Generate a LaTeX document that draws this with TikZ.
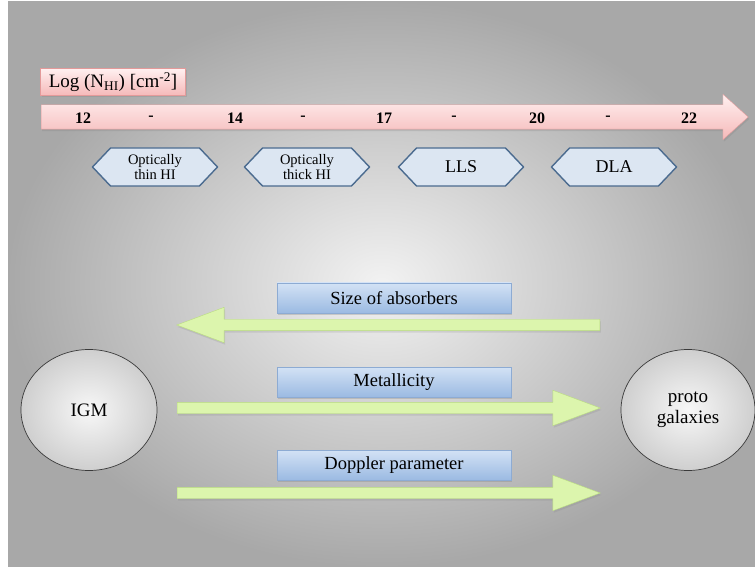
\documentclass[tikz,border=0pt]{standalone}
\usepackage{fontspec}
\setmainfont{Liberation Serif}
\usetikzlibrary{shapes.arrows,shapes.symbols,shapes.geometric,shadows}

\definecolor{pinkfill}{HTML}{F5B9B9}
\definecolor{pinkline}{HTML}{E39A9A}
\definecolor{hexfill}{HTML}{DCE6F2}
\definecolor{hexline}{HTML}{4B6B8F}
\definecolor{boxtop}{HTML}{D3E2F5}
\definecolor{boxbottom}{HTML}{9BBAE2}
\definecolor{boxline}{HTML}{8DABD3}
\definecolor{arrowfill}{HTML}{DCF5AD}
\definecolor{arrowline}{HTML}{B9DD7E}
\definecolor{ovalline}{HTML}{3A3A3A}

\tikzset{
  pinkbox/.style={draw=pinkline, top color=red!6, bottom color=pinkfill,
    drop shadow={opacity=0.25, shadow xshift=1pt, shadow yshift=-2pt}},
  rangebox/.style={signal, signal to=east and west, signal pointer angle=93,
    draw=hexline, line width=1.4pt, fill=hexfill, minimum width=125pt,
    minimum height=38pt, inner sep=1pt, align=center},
  propbox/.style={draw=boxline, top color=boxtop, bottom color=boxbottom,
    minimum width=234pt, minimum height=30pt, font=\fontsize{18.5}{20}\selectfont,
    drop shadow={opacity=0.3, shadow xshift=1pt, shadow yshift=-2pt}},
  trendarrow/.style={single arrow, draw=arrowline, fill=arrowfill, inner sep=0pt,
    text height=5.5pt, text depth=5.5pt, minimum height=423pt, anchor=tail,
    single arrow head extend=12pt, single arrow tip angle=41,
    drop shadow={opacity=0.2, shadow xshift=1pt, shadow yshift=-2pt}},
  endoval/.style={ellipse, draw=ovalline, line width=0.7pt, inner color=gray!6,
    outer color=gray!38, minimum width=136pt, minimum height=121pt, inner sep=0pt,
    align=center, font=\fontsize{19}{21}\selectfont}
}

\begin{document}
\begin{tikzpicture}[x=1pt,y=-1pt]
    \useasboundingbox (0,0) rectangle (755,569);
    % Draw the grey background
    \fill[white] (0,0) rectangle (755,569);
    \shade[inner color=gray!10, outer color=gray!68] (8,2) rectangle (755,566);
    % Draw the column density axis
    \node[pinkbox, single arrow, anchor=tail, inner sep=0pt, text height=12pt,
      text depth=12pt, minimum height=707pt, single arrow head extend=10.5pt,
      single arrow tip angle=84] (nhiarrow) at (41,117) {};
    \node[pinkbox, minimum width=145pt, minimum height=27pt, inner sep=1pt,
      font=\fontsize{19}{21}\selectfont] (loglabel) at (113,82)
      {Log (N\textsubscript{HI}) [cm\textsuperscript{-2}]};
    % Label the axis values
    \foreach \val/\xpos [count=\i] in {12/83,-/151,14/235,-/303,17/384,-/454,20/537,-/608,22/689}
      \node[font=\fontsize{16}{18}\selectfont\bfseries] (tick\i) at (\xpos,118) {\val};
    % Draw the absorber classes
    \node[rangebox, font=\fontsize{14.5}{15}\selectfont] (thinhi) at (155,167) {Optically\\thin HI};
    \node[rangebox, font=\fontsize{14.5}{15}\selectfont] (thickhi) at (307,167) {Optically\\thick HI};
    \node[rangebox, font=\fontsize{18}{20}\selectfont] (lls) at (461,167) {LLS};
    \node[rangebox, font=\fontsize{18}{20}\selectfont] (dla) at (614,167) {DLA};
    % Draw the two ends
    \node[endoval] (igm) at (89,410) {IGM};
    \node[endoval, minimum width=134pt] (proto) at (688,410) {proto\\galaxies};
    % Draw the trends
    \node[propbox] (sizebox) at (394,298) {Size of absorbers};
    \node[trendarrow, shape border rotate=180] (sizearrow) at (600,325) {};
    \node[propbox] (metalbox) at (394,382) {Metallicity};
    \node[trendarrow] (metalarrow) at (177,408) {};
    \node[propbox] (dopplerbox) at (394,465) {Doppler parameter};
    \node[trendarrow] (dopplerarrow) at (177,493) {};
\end{tikzpicture}
\end{document}
